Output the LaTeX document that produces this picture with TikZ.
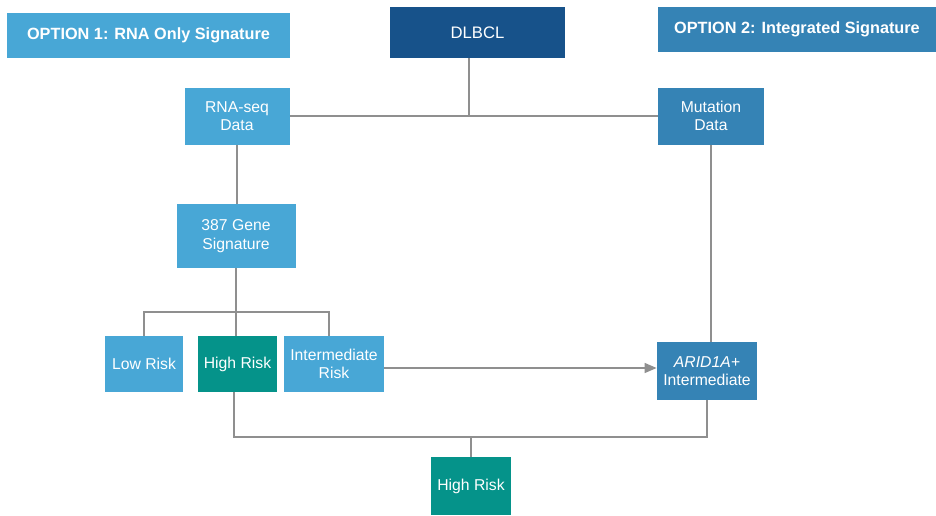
\documentclass[tikz,border=0pt]{standalone}
\usepackage{fontspec}
\setmainfont{Liberation Sans}
\usepackage{xcolor}
\definecolor{skyblue}{RGB}{72,167,214}
\definecolor{navyblue}{RGB}{23,82,138}
\definecolor{steelblue}{RGB}{53,131,181}
\definecolor{tealrisk}{RGB}{5,147,138}
\definecolor{linegray}{RGB}{143,143,143}
\usetikzlibrary{arrows.meta,positioning,calc}

\begin{document}
\begin{tikzpicture}[x=0.75pt, y=-0.75pt, >={Triangle[length=9pt,width=7.5pt]}, semithick]
    \tikzset{box/.style={draw=none, inner sep=0pt, align=center, text=white, font=\fontsize{11.8}{13.8}\selectfont},
             header/.style={box, font=\fontsize{12.2}{14}\selectfont\bfseries},
             link/.style={draw=linegray, line width=1.1pt}}
    \useasboundingbox (0,0) rectangle (936,515);

    % Headers
    \node[header, fill=skyblue, minimum width=212.25pt, minimum height=33.75pt] (opt1) at (148.5,35.5) {OPTION 1: RNA Only Signature};
    \node[box, fill=navyblue, minimum width=131.25pt, minimum height=38.25pt, font=\fontsize{12.5}{14}\selectfont] (dlbcl) at (477.5,32.5) {DLBCL};
    \node[header, fill=steelblue, minimum width=208.5pt, minimum height=33.75pt] (opt2) at (797,29.5) {OPTION 2: Integrated Signature};

    % Data sources
    \node[box, fill=skyblue, minimum width=78.75pt, minimum height=42.75pt] (rna) at (237,116) {RNA-seq\\Data};
    \node[box, fill=steelblue, minimum width=79.5pt, minimum height=42.75pt] (mut) at (711,116) {Mutation\\Data};
    \node[box, fill=skyblue, minimum width=89.25pt, minimum height=48pt] (sig) at (236,236) {387 Gene\\Signature};

    % Risk groups
    \node[box, fill=skyblue, minimum width=58.5pt, minimum height=42pt] (low) at (144,364) {Low Risk};
    \node[box, fill=tealrisk, minimum width=59.25pt, minimum height=42pt] (high) at (237.5,364) {High Risk};
    \node[box, fill=skyblue, minimum width=75pt, minimum height=42pt] (inter) at (334,364) {Intermediate\\Risk};
    \node[box, fill=steelblue, minimum width=75pt, minimum height=43.5pt] (arid) at (707,371) {\textit{ARID1A+}\\Intermediate};
    \node[box, fill=tealrisk, minimum width=60pt, minimum height=43.5pt] (final) at (471,486) {High Risk};

    % Junctions
    \coordinate (split) at (236,312);
    \coordinate (arrowy) at (0,368);
    \coordinate (merge) at (471,437);
    \coordinate (dlbclfoot) at ($(dlbcl.south)+(-8.5,0)$);
    \coordinate (interhead) at ($(inter.north)+(-5,0)$);
    \coordinate (highfoot) at ($(high.south)+(-3.5,0)$);

    % Connectors
    \draw[link] (dlbclfoot) -- (dlbclfoot |- rna.east);
    \draw[link] (rna.east) -- (mut.west);
    \draw[link] (rna.south) -- (rna.south |- sig.north);
    \draw[link] (sig.south) -- (split);
    \draw[link] (low.north) |- (split) -| (interhead);
    \draw[link] (split) -- (split |- high.north);
    \draw[link, ->, linegray] (inter.east |- arrowy) -- (arid.west |- arrowy);
    \draw[link] (mut.south) -- (mut.south |- arid.north);
    \draw[link] (highfoot) |- (merge) -| (arid.south);
    \draw[link] (merge) -- (final.north);
\end{tikzpicture}
\end{document}
